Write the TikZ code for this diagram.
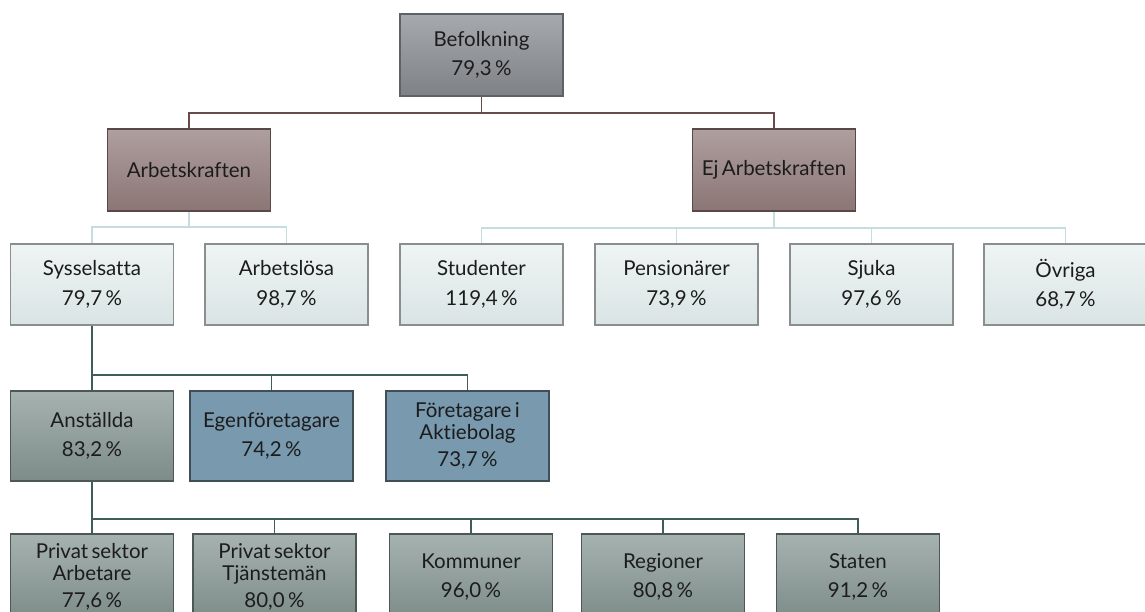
\documentclass[tikz,border=0pt]{standalone}
\usepackage{fontspec}
\setmainfont{Lato}[Ligatures=NoCommon,WordSpace=0.65]
\definecolor{befT}{HTML}{A6A9AD}
\definecolor{befB}{HTML}{7E8287}
\definecolor{befD}{HTML}{5E6267}
\definecolor{akT}{HTML}{AF9F9F}
\definecolor{akB}{HTML}{8B7575}
\definecolor{akD}{HTML}{5A4848}
\definecolor{ltT}{HTML}{EFF4F4}
\definecolor{ltB}{HTML}{DAE4E4}
\definecolor{ltD}{HTML}{8A8E8E}
\definecolor{grT}{HTML}{A6B2AF}
\definecolor{grB}{HTML}{7D8C89}
\definecolor{grD}{HTML}{4D5755}
\definecolor{blF}{HTML}{7899AE}
\definecolor{blD}{HTML}{3F4E57}
\definecolor{lnA}{HTML}{6C4A4A}
\definecolor{lnB}{HTML}{C6DDDD}
\definecolor{lnC}{HTML}{3F5E59}
\definecolor{txt}{HTML}{1C1C1C}
\begin{document}
\begin{tikzpicture}[x=1pt,y=-1pt,
  box/.style={rectangle,inner sep=0pt,minimum width=163pt,align=center,
    text=txt,font=\fontsize{20.5}{21.5}\selectfont,line width=1.1pt},
  boxbef/.style={box,minimum height=82pt,top color=befT,bottom color=befB,draw=befD},
  boxak/.style={box,minimum height=82pt,top color=akT,bottom color=akB,draw=akD},
  boxlt/.style={box,minimum height=81pt,top color=ltT,bottom color=ltB,draw=ltD},
  boxgr/.style={box,minimum height=90pt,top color=grT,bottom color=grB,draw=grD},
  boxbl/.style={box,minimum height=90pt,fill=blF,draw=blD},
  boxbot/.style={box,minimum height=86pt,top color=grT,bottom color=grB,draw=grD},
  conA/.style={draw=lnA,line width=1.5pt},
  conB/.style={draw=lnB,line width=1.5pt},
  conC/.style={draw=lnC,line width=1.5pt}]
\useasboundingbox (0,0) rectangle (1145,612);
% level 1
\node[boxbef] (bef) at (481.5,55) {Befolkning\\[8pt]79,3\,\%};
% level 2
\node[boxak] (ak) at (189,170) {Arbetskraften};
\node[boxak] (ej) at (774,170) {Ej Arbetskraften};
% level 3
\node[boxlt] (sys) at (92,284.5) {Sysselsatta\\[8pt]79,7\,\%};
\node[boxlt] (arb) at (286.5,284.5) {Arbetslösa\\[8pt]98,7\,\%};
\node[boxlt] (stu) at (481.5,284.5) {Studenter\\[8pt]119,4\,\%};
\node[boxlt] (pen) at (676.5,284.5) {Pensionärer\\[8pt]73,9\,\%};
\node[boxlt] (sju) at (871.5,284.5) {Sjuka\\[8pt]97,6\,\%};
\node[boxlt] (ovr) at (1065.5,284.5) {Övriga\\[8pt]68,7\,\%};
% level 4
\node[boxgr] (ans) at (92,436) {Anställda\\[8pt]83,2\,\%};
\node[boxbl] (egen) at (271.5,436) {Egenföretagare\\[8pt]74,2\,\%};
\node[boxbl] (fab) at (467.5,436) {Företagare i\\Aktiebolag\\[6pt]73,7\,\%};
% level 5
\node[boxbot] (pa) at (92,577) {Privat sektor\\Arbetare\\[6pt]77,6\,\%};
\node[boxbot] (pt) at (274.5,577) {Privat sektor\\Tjänstemän\\[6pt]80,0\,\%};
\node[boxbot] (kom) at (471,577) {Kommuner\\[8pt]96,0\,\%};
\node[boxbot] (reg) at (663,577) {Regioner\\[8pt]80,8\,\%};
\node[boxbot] (sta) at (858,577) {Staten\\[8pt]91,2\,\%};
% connectors
\coordinate (j1) at (481.5,113);
\draw[conA] (bef.south) -- (j1) -| (ak.north);
\draw[conA] (j1) -| (ej.north);
\coordinate (j2) at (189,227);
\draw[conB] (ak.south) -- (j2) -| (sys.north);
\draw[conB] (j2) -| (arb.north);
\coordinate (j3) at (774,228);
\draw[conB] (ej.south) -- (j3) -| (stu.north);
\draw[conB] (j3) -| (pen.north);
\draw[conB] (j3) -| (sju.north);
\draw[conB] (j3) -| (ovr.north);
\coordinate (j4) at (92,375);
\draw[conC] (sys.south) -- (j4) -- (ans.north);
\draw[conC] (j4) -| (egen.north);
\draw[conC] (j4) -| (fab.north);
\coordinate (j5) at (92,519);
\draw[conC] (ans.south) -- (j5) -- (pa.north);
\draw[conC] (j5) -| (pt.north);
\draw[conC] (j5) -| (kom.north);
\draw[conC] (j5) -| (reg.north);
\draw[conC] (j5) -| (sta.north);
\end{tikzpicture}
\end{document}
